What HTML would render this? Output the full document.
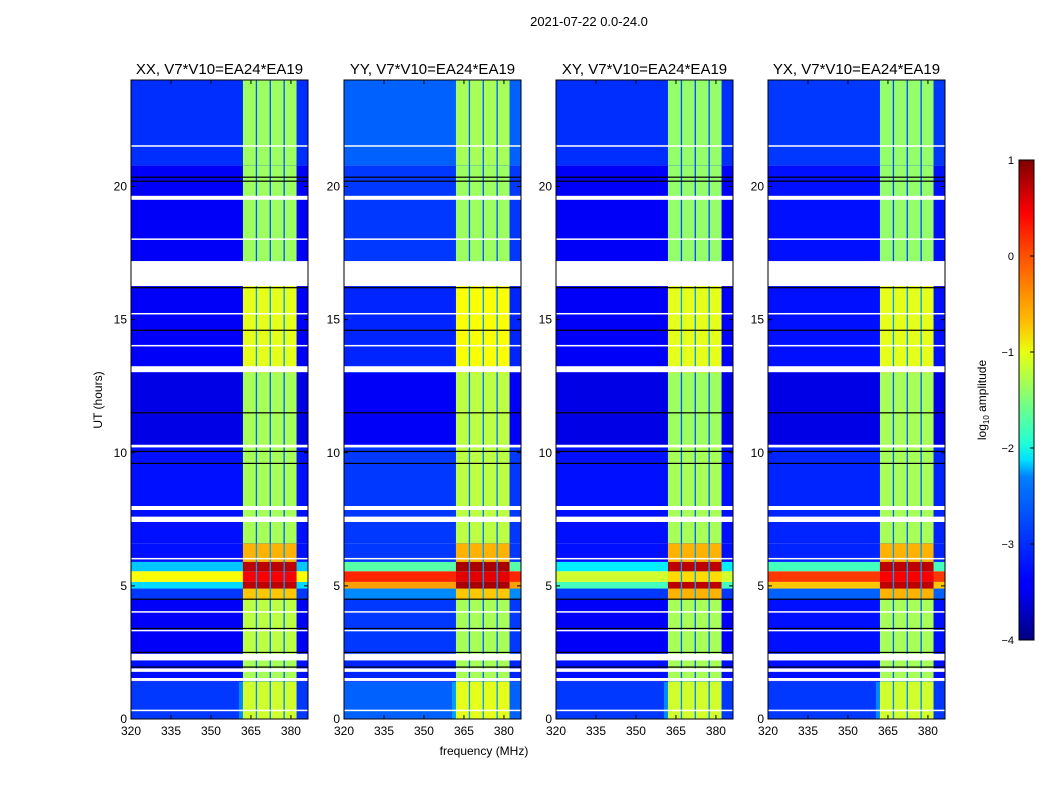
<!DOCTYPE html>
<html><head><meta charset="utf-8">
<style>
body{margin:0;background:#fff;}
svg{display:block;font-family:"Liberation Sans",sans-serif;}
</style></head>
<body>
<svg id="fig" width="1050" height="800" viewBox="0 0 1050 800">
<defs>
<linearGradient id="jet" x1="0" y1="1" x2="0" y2="0">
<stop offset="0" stop-color="#00007f"/><stop offset="0.11" stop-color="#0000ff"/>
<stop offset="0.125" stop-color="#0000ff"/><stop offset="0.34" stop-color="#0080ff"/>
<stop offset="0.375" stop-color="#00e0ff"/><stop offset="0.41" stop-color="#20ffd8"/>
<stop offset="0.5" stop-color="#7dff7a"/><stop offset="0.6" stop-color="#e8ff10"/>
<stop offset="0.66" stop-color="#ffc000"/><stop offset="0.8" stop-color="#ff5000"/>
<stop offset="0.89" stop-color="#ff0000"/><stop offset="1" stop-color="#7f0000"/>
</linearGradient>
</defs>
<text x="589" y="26" font-size="13" text-anchor="middle">2021-07-22 0.0-24.0</text>
<g id="panels"></g>
<text x="484" y="755" font-size="12" text-anchor="middle">frequency (MHz)</text>
<text x="0" y="0" font-size="12" text-anchor="middle" transform="translate(102,400) rotate(-90)">UT (hours)</text>
<g id="cbar"></g>
</svg>
<script>
// ---- data ----
const panelTitles = ["XX, V7*V10=EA24*EA19","YY, V7*V10=EA24*EA19","XY, V7*V10=EA24*EA19","YX, V7*V10=EA24*EA19"];
const segStart = [0,1.4,2.2,4.5,4.9,5.15,5.55,5.9,6.6,10.2,13,17.2,20.8];
const segEnd   = [1.4,2.2,4.5,4.9,5.15,5.55,5.9,6.6,10.2,13,16.3,20.8,24];
const bgXX = [-3.1,-3.3,-3.4,-3.1,-2.3,-0.9,-2.4,-3.3,-3.3,-3.5,-3.4,-3.4,-3.15];
const bgYY = [-2.9,-3.2,-3.1,-2.7,-0.4,0.2,-1.7,-3.1,-3.1,-3.4,-3.2,-3.1,-2.9];
const bgXY = [-3.1,-3.3,-3.4,-3.1,-1.8,-1.1,-2.2,-3.3,-3.3,-3.5,-3.4,-3.4,-3.15];
const bgYX = [-3.1,-3.3,-3.3,-2.9,-0.6,0.1,-1.8,-3.2,-3.2,-3.5,-3.3,-3.3,-3.1];
const bandXX = [-1.1,-1.3,-1.2,-0.6,0.7,0.4,0.7,-0.5,-1.3,-1.3,-1.0,-1.35,-1.35];
const bandYY = [-1.0,-1.3,-1.3,-0.6,0.8,0.5,0.8,-0.5,-1.2,-1.2,-0.9,-1.35,-1.3];
const bandXY = [-1.1,-1.3,-1.3,-0.5,0.7,-0.7,0.7,-0.5,-1.3,-1.35,-1.0,-1.4,-1.4];
const bandYX = [-1.1,-1.3,-1.3,-0.5,0.7,0.4,0.7,-0.5,-1.3,-1.3,-1.0,-1.4,-1.4];
const subBandLo = [362,367.3,372.5,377.7];
const subBandHi = [366.8,372.0,377.2,382.1];
const flagStart = [0.3,1.43,1.77,2.2,3.3,4.0,6.0,7.4,7.85,10.2,13.03,14.0,15.2,16.26,18.0,19.5,21.5];
const flagEnd   = [0.35,1.54,1.9,2.45,3.35,4.05,6.05,7.6,8.0,10.3,13.25,14.05,15.25,17.16,18.05,19.65,21.55];
const blackLines = [1.95,2.5,3.4,4.5,9.6,10.05,11.5,14.6,16.2,20.2,20.35];
const xTicks = [320,335,350,365,380];
const yTicks = [0,5,10,15,20];
const cbTicks = [1,0,-1,-2,-3,-4];

const bgs=[bgXX,bgYY,bgXY,bgYX], bands=[bandXX,bandYY,bandXY,bandYX];
const panelX=[131,344,556,768], PW=177, PT=80, PB=719;
const F0=320,F1=386.4,T0=0,T1=24;
function jet(v){let t=(v+4)/5;t=Math.max(0,Math.min(1,t));
 const f=x=>Math.max(0,Math.min(1,x));
 const r=f(Math.min(4*t-1.5,-4*t+4.5)),g=f(Math.min(4*t-0.5,-4*t+3.5)),b=f(Math.min(4*t+0.5,-4*t+2.5));
 return `rgb(${Math.round(r*255)},${Math.round(g*255)},${Math.round(b*255)})`;}
const NS="http://www.w3.org/2000/svg";
function mk(tag,attrs,parent){const e=document.createElementNS(NS,tag);for(const k in attrs)e.setAttribute(k,attrs[k]);parent.appendChild(e);return e;}
const root=document.getElementById('panels');
panelTitles.forEach((title,p)=>{
 const x0=panelX[p];
 const xs=f=>x0+(f-F0)/(F1-F0)*PW;
 const ys=t=>PB-(t-T0)/(T1-T0)*(PB-PT);
 const g=mk('g',{},root);
 
 
 const tt=mk('text',{x:x0+PW/2,y:74,'font-size':15,'text-anchor':'middle'},g);tt.textContent=title;
 
 
 segStart.forEach((s,i)=>{
  const y1=ys(segEnd[i]),y2=ys(s);
  const r=mk('rect',{x:x0,y:y1,width:PW,height:y2-y1,fill:jet(bgs[p][i])},g);
  
  
  const lo=(i===0?360.5:subBandLo[0]);
  const br=mk('rect',{x:xs(lo),y:y1,width:xs(subBandHi[3])-xs(lo),height:y2-y1,fill:jet(Math.min(-2.6,bands[p][i]-1.6))},g);
  
  
  subBandLo.forEach((f,k)=>{
   const c=mk('rect',{x:xs(f),y:y1,width:xs(subBandHi[k])-xs(f),height:y2-y1,fill:jet(bands[p][i])},g);
   
   
  });
 });
 blackLines.forEach(h=>{
  const l=mk('rect',{x:x0,y:ys(h)-0.6,width:PW,height:1.2,fill:'#000'},g);
  
  
 });
 flagStart.forEach((s,i)=>{
  const y1=ys(flagEnd[i]),y2=ys(s);
  const w=mk('rect',{x:x0,y:y1,width:PW,height:Math.max(1.5,y2-y1),fill:'#fff'},g);
  
  
 });
 const fr=mk('rect',{x:x0,y:PT,width:PW,height:PB-PT,fill:'none',stroke:'#000','stroke-width':1},g);
 
 
 xTicks.forEach(f=>{
  const x=xs(f);
  mk('line',{x1:x,y1:PB,x2:x,y2:PB-4,stroke:'#000'},g);
  mk('line',{x1:x,y1:PT,x2:x,y2:PT+4,stroke:'#000'},g);
  const t=mk('text',{x:x,y:PB+16,'font-size':12,'text-anchor':'middle'},g);t.textContent=f;
  
  
 });
 yTicks.forEach(h=>{
  const y=ys(h);
  mk('line',{x1:x0,y1:y,x2:x0+4,y2:y,stroke:'#000'},g);
  mk('line',{x1:x0+PW,y1:y,x2:x0+PW-4,y2:y,stroke:'#000'},g);
  const t=mk('text',{x:x0-4,y:y+4,'font-size':12,'text-anchor':'end'},g);t.textContent=h;
  
  
 });
});
// colorbar
const cb=document.getElementById('cbar');
const CX=1019,CW=15,CT=160,CB=640;
const cr=mk('rect',{x:CX,y:CT,width:CW,height:CB-CT,fill:'url(#jet)',stroke:'#000','stroke-width':1},cb);


cbTicks.forEach(v=>{
 const y=CB-(v+4)/5*(CB-CT);
 mk('line',{x1:CX+CW,y1:y,x2:CX+CW-4,y2:y,stroke:'#000'},cb);
 const t=mk('text',{x:CX-5,y:y+4,'font-size':11,'text-anchor':'end'},cb);
 t.textContent=String(v).replace('-','\u2212');
 
 
});
const cl=mk('text',{x:0,y:0,'font-size':12,'text-anchor':'middle',transform:'translate(986,400) rotate(-90)'},cb);
cl.innerHTML='log<tspan font-size="8" dy="3">10</tspan><tspan dy="-3"> amplitude</tspan>';


</script>
</body></html>
